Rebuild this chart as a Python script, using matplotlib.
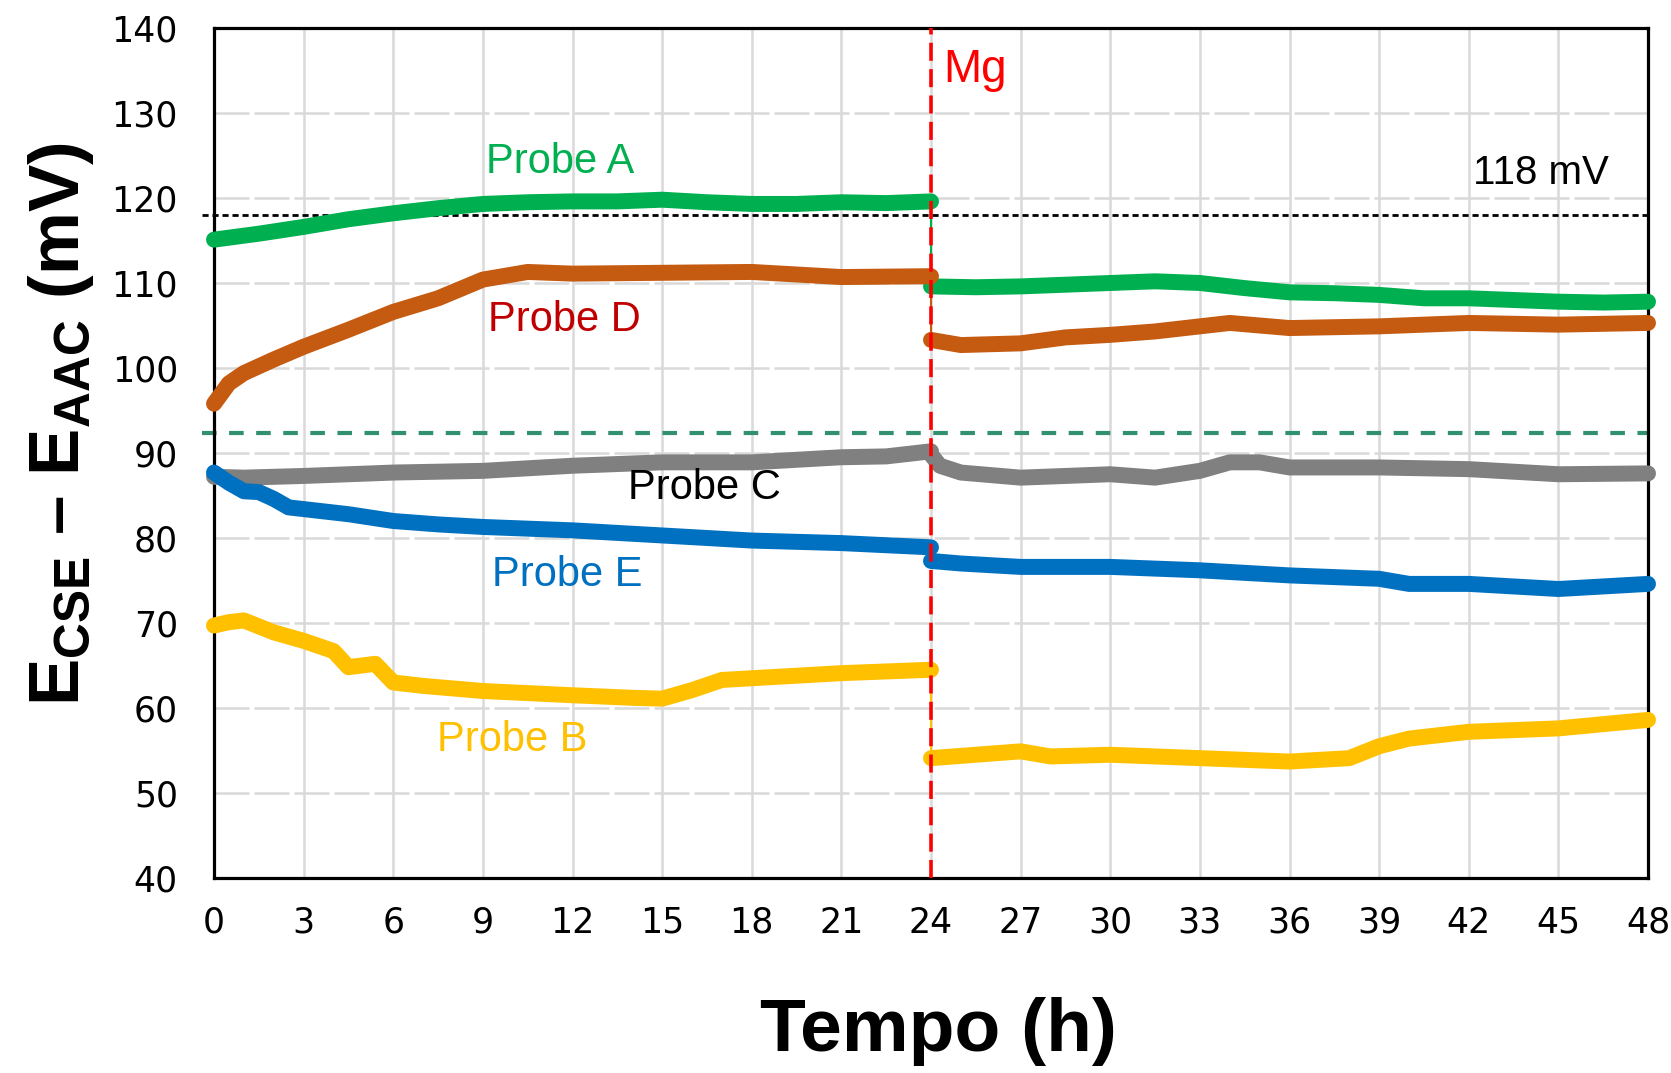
import matplotlib
matplotlib.use("Agg")
import matplotlib.pyplot as plt

# Probe readings (hours, mV), before and after Mg connection at 24 h
hA1 = [0, 1.5, 3, 4.5, 6, 7.5, 9, 10.5, 12, 13.5, 15, 16.5, 18, 19.5, 21, 22.5, 24]
vA1 = [115.1, 115.8, 116.6, 117.5, 118.2, 118.8, 119.3, 119.5, 119.6, 119.6, 119.8, 119.5, 119.3, 119.3, 119.5, 119.4, 119.6]
hA2 = [24, 25.5, 27, 28.5, 30, 31.5, 33, 34.5, 36, 37.5, 39, 40.5, 42, 43.5, 45, 46.5, 48]
vA2 = [109.6, 109.5, 109.6, 109.8, 110.0, 110.2, 110.0, 109.4, 108.9, 108.8, 108.6, 108.2, 108.2, 108.0, 107.8, 107.7, 107.8]

hD1 = [0, 0.5, 1, 2, 3, 4.5, 6, 7.5, 9, 10.5, 12, 15, 18, 21, 24]
vD1 = [95.8, 98.2, 99.4, 101.0, 102.5, 104.5, 106.6, 108.2, 110.4, 111.3, 111.1, 111.2, 111.3, 110.7, 110.8]
hD2 = [24, 25, 27, 28.5, 30, 31.5, 33, 34, 36, 39, 42, 45, 48]
vD2 = [103.3, 102.7, 102.9, 103.6, 103.9, 104.3, 104.9, 105.3, 104.7, 104.9, 105.3, 105.1, 105.3]

hC1 = [0, 1, 3, 6, 9, 12, 15, 18, 21, 22.5, 24]
vC1 = [87.2, 87.1, 87.3, 87.7, 87.9, 88.5, 88.9, 88.9, 89.5, 89.6, 90.2]
hC2 = [24, 24.3, 25, 27, 30, 31.5, 33, 34, 35, 36, 39, 42, 45, 48]
vC2 = [89.8, 88.5, 87.7, 87.1, 87.5, 87.1, 87.9, 88.9, 88.9, 88.3, 88.3, 88.1, 87.5, 87.6]

hE1 = [0, 0.5, 1, 1.5, 2, 2.5, 3, 4.5, 6, 7.5, 9, 12, 15, 18, 21, 24]
vE1 = [87.7, 86.5, 85.5, 85.4, 84.6, 83.6, 83.4, 82.8, 82.0, 81.6, 81.3, 80.9, 80.3, 79.7, 79.4, 78.9]
hE2 = [24, 25, 27, 30, 33, 36, 39, 40, 42, 45, 48]
vE2 = [77.3, 77.0, 76.6, 76.6, 76.2, 75.6, 75.2, 74.6, 74.6, 74.0, 74.6]

hB1 = [0, 0.5, 1, 2, 3, 4, 4.5, 5.4, 6, 7, 9, 12, 14, 15, 16, 17, 18, 21, 24]
vB1 = [69.7, 70.1, 70.3, 68.9, 67.9, 66.7, 64.8, 65.2, 63.0, 62.6, 62.0, 61.5, 61.2, 61.1, 62.1, 63.3, 63.5, 64.1, 64.5]
hB2 = [24, 27, 28, 30, 33, 36, 38, 39, 40, 42, 45, 48]
vB2 = [54.1, 54.9, 54.3, 54.5, 54.1, 53.7, 54.1, 55.5, 56.4, 57.2, 57.6, 58.6]

series = [
    ("Probe A", "#00B050", hA1, vA1, hA2, vA2, 11.57, 124.2),
    ("Probe D", "#C55A11", hD1, vD1, hD2, vD2, 11.72, 105.7),
    ("Probe C", "#808080", hC1, vC1, hC2, vC2, 16.4, 85.9),
    ("Probe E", "#0070C0", hE1, vE1, hE2, vE2, 11.83, 75.6),
    ("Probe B", "#FFC000", hB1, vB1, hB2, vB2, 9.97, 56.2),
]
label_colors = {"Probe D": "#C00000", "Probe C": "black"}

ref_118 = 118
ref_green = 92.4

plt.rcParams["mathtext.fontset"] = "custom"
plt.rcParams["mathtext.rm"] = "Liberation Sans:bold"
plt.rcParams["mathtext.it"] = "Liberation Sans:bold"
plt.rcParams["mathtext.bf"] = "Liberation Sans:bold"

fig = plt.figure(figsize=(16.71, 10.73), dpi=100)
ax = fig.add_axes([214 / 1671, 1 - 878 / 1073, (1648 - 214) / 1671, (878 - 28) / 1073])

ax.set_xlim(0, 48)
ax.set_ylim(40, 140)
ax.set_xticks(range(0, 49, 3))
ax.set_yticks(range(40, 141, 10))
ax.tick_params(length=0, labelsize=25, pad=20)
ax.tick_params(axis="y", pad=26)
for lab in ax.get_xticklabels() + ax.get_yticklabels():
    lab.set_family("DejaVu Sans")

ax.xaxis.grid(True, color="#D9D9D9", lw=1.8, ls="-")
ax.yaxis.grid(True, color="#D9D9D9", lw=1.8, ls=(0, (14, 2)))
ax.set_axisbelow(True)
for sp in ax.spines.values():
    sp.set_linewidth(2.3)
    sp.set_color("black")

# reference lines
ax.plot([-0.4, 48], [ref_118, ref_118], color="black", lw=2.0, ls=(0, (2.2, 1.4)), clip_on=False, zorder=2)
ax.plot([-0.4, 48], [ref_green, ref_green], color="#31906E", lw=3.0, ls=(0, (3.5, 3)), clip_on=False, zorder=2)

for name, col, h1, v1, h2, v2, tx, ty in series:
    # thin connector across the Mg step
    ax.plot([h1[-1], h2[0]], [v1[-1], v2[0]], color=col, lw=1.5, zorder=3)
    for hh, vv in ((h1, v1), (h2, v2)):
        ax.plot(hh, vv, color=col, lw=11.5, solid_capstyle="round", solid_joinstyle="round",
                clip_on=False, zorder=3)
    ax.text(tx, ty, name, color=label_colors.get(name, col), fontsize=30,
            family="Liberation Sans", ha="center", va="center", zorder=5)

ax.axvline(24, color="red", lw=2.6, ls=(0, (5, 2.3)), zorder=4)
ax.text(24.42, 135.1, "Mg", color="red", fontsize=33, family="Liberation Sans",
        ha="left", va="center", zorder=5)
ax.text(44.4, 123.0, "118 mV", color="black", fontsize=29, family="Liberation Sans",
        ha="center", va="center", zorder=5)

fig.text(61 / 1671, 1 - 424 / 1073, r"$\mathrm{E_{CSE}}$ – $\mathrm{E_{AAC}}$ (mV)",
         rotation=90, fontsize=51, family="Liberation Sans", fontweight="bold",
         ha="center", va="center")
fig.text(938 / 1671, 1 - 1031 / 1073, "Tempo (h)", fontsize=54, family="Liberation Sans",
         fontweight="bold", ha="center", va="center")

fig.savefig("out.png", dpi=100)
